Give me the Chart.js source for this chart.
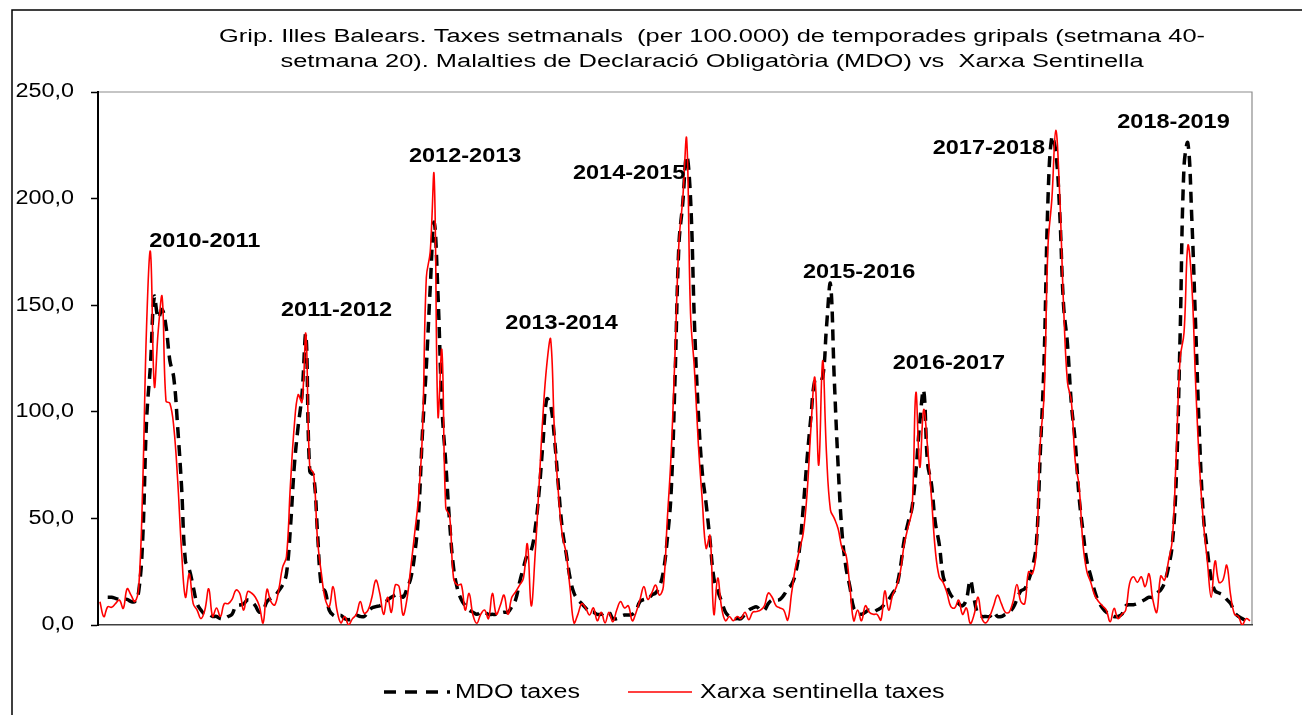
<!DOCTYPE html>
<html lang="ca">
<head>
<meta charset="utf-8">
<title>Grip. Illes Balears</title>
<script src="https://cdn.jsdelivr.net/npm/chart.js@4.4.1/dist/chart.umd.min.js"></script>
<style>
    html, body { margin: 0; padding: 0; background: #fff; }
    #wrap { width: 1302px; height: 715px; }
</style>
</head>
<body>
<div id="wrap"><canvas id="gripChart" width="1302" height="715"></canvas></div>
<script>
// setmanes de cada temporada (40 a 52, 1 a 20)
const weeks = [40, 41, 42, 43, 44, 45, 46, 47, 48, 49, 50, 51, 52,
    1, 2, 3, 4, 5, 6, 7, 8, 9, 10, 11, 12, 13, 14, 15, 16, 17, 18, 19, 20];
const seasons = ['2010-2011', '2011-2012', '2012-2013', '2013-2014', '2014-2015',
    '2015-2016', '2016-2017', '2017-2018', '2018-2019'];

// MDO taxes (per 100.000)
const mdo1011 = [null, null, 13, 13, 12.5, 12, 12, 12, 11, 11, 16, 40, 96, 122, 154, 144, 148, 140, 124, 116, 93, 65, 30, 26, 18, 10, 7, 5, 5, 4, 4, 3, 3];
const mdo1112 = [4, 5, 9, 9.4, 10, 11.7, 11, 9, 6, 7, 11, 12.5, 13.5, 16, 18.7, 24, 45, 74, 93, 108, 136, 72, 70, 43, 18, 15.6, 7, 4.7, 4, 4.5, 3, 2.5, 3];
const mdo1213 = [4.5, 4, 4, 6, 8, 8.6, 9, 10, 11.7, 13, 14, 14.8, 13, 17, 22, 33, 52, 90, 121, 158, 189, 155, 103, 76, 48, 27, 17, 12, 9, 7, 6, 5, 6];
const mdo1314 = [6, 5, 5, 5, 5.5, 6, 6, 8.6, 12, 20, 27, 33, 35, 45, 62, 85, 106, 103, 87, 65, 45, 33.5, 22, 15, 12, 10, 8, 6, 6, 5, 5, 6, 6];
const mdo1415 = [3, 3, 4, 4.7, 4.7, 5, 7, 11, 12, 12, 14, 15, 18, 25, 40, 62, 115, 178, 198, 220, 200, 142, 100, 72, 57, 40, 22, 16, 11, 6, 4, 3, 3];
const mdo1516 = [3, 5, 7, 8, 8.5, 7, 7, 10, 11.7, 11.7, 12, 14, 17, 19, 24, 35, 55, 78, 98, 115, 116, 116, 140, 160, 115, 74, 43, 27, 18, 8, 6, 5, 6];
const mdo1617 = [7, 6, 7, 8, 10, 12, 14.8, 18, 27, 40, 48, 55, 72, 95, 110, 76, 66, 48, 38, 23, 18, 14, 12, 10, 9, 12, 21, 12, 5, 4, 4, 4, 6];
const mdo1718 = [4, 4, 5, 6, 8, 12, 16, 17, 21, 27, 38, 80, 125, 200, 229, 222, 194, 150, 132, 104, 86, 60, 44, 30, 23, 16, 11, 8, 6, 5, 4, 4, 5];
const mdo1819 = [9, 9.5, 9.5, 10, 11, 12, 13, 13, 15, 16.4, 20, 27, 38, 68, 136, 215, 226, 191, 140, 88, 51, 35, 22, 16, 15, 14, 12, 10, 6, 4, 3, 2, 2];

// Xarxa sentinella taxes (per 100.000)
const xs1011 = [10.9, 3.9, 8.6, 8.3, 10, 11.7, 7.8, 17, 14, 11, 18, 65, 140, 175, 112, 138, 154, 105, 104, 93, 68, 35, 13, 24, 10, 7, 3, 7, 17, 4, 8, 4, 10];
const xs1112 = [10, 12, 16.4, 14.8, 7, 15.6, 15, 13, 9, 1, 16.7, 11, 9.4, 16.4, 27, 32, 65, 93, 108, 104.5, 136.5, 74, 71, 40, 24, 12, 8.6, 18, 7, 1, 4, 0, 3];
const xs1213 = [5, 11, 5.5, 7, 13, 21, 15, 5, 13, 6, 18.7, 18, 4.7, 12, 27, 43, 60, 90, 163, 175, 211, 98, 129, 55, 51, 22, 18.7, 19, 7, 14.8, 4.7, 0.8, 5];
const xs1314 = [7, 3, 14.8, 5, 9, 14, 5, 13, 15.6, 18.7, 22, 38, 9, 33, 65, 98, 122, 134, 89.7, 61.6, 42, 33.5, 17, 1, 5, 10, 8, 4.7, 8, 2, 6, 1, 6];
const xs1415 = [1.5, 7, 11, 8, 9, 2, 6, 12, 18, 12, 15, 18.7, 14, 18, 49, 80, 127, 179, 200, 228, 146, 120, 85, 59, 36, 42, 5, 22, 8, 2, 4, 2, 4];
const xs1516 = [3, 6, 2.5, 6, 6.3, 7, 9, 15, 13, 9, 8, 7, 2.3, 14.8, 27, 35, 43, 62, 93, 116, 75, 124, 80, 54, 50, 45, 36, 33, 18, 2, 7, 2, 9];
const xs1617 = [6, 5, 5, 2.3, 16, 7, 14, 18, 25, 38, 46, 54, 109, 74, 101, 83.5, 60, 35, 22.6, 20, 15, 8.6, 8, 11.7, 5, 8, 0.8, 5, 13, 3, 1, 4, 9];
const xs1718 = [14, 10, 6, 6, 11, 19, 11, 10, 25, 24, 35, 85, 108, 178, 200, 232, 202, 150, 114, 105, 77, 65, 38, 25, 20, 14, 11, 9, 7, 1.5, 7.8, 3, 5];
const xs1819 = [7, 19.5, 22.6, 20, 22.6, 18, 24, 11.7, 6, 23, 21, 30, 40, 80, 125, 137, 178, 160, 113, 74, 48, 30, 13, 30, 20, 21, 28, 14, 5, 4, 0, 3, 2];

const yTicks = [0, 50, 100, 150, 200, 250];

// on va cada etiqueta de temporada (índex de setmana, taxa)
const labelWeekIdx = [27, 60.9, 94, 118.8, 136.2, 195.4, 218.5, 228.8, 276.3];
const labelRate = [180, 147.5, 220, 141.4, 212, 165.7, 123, 223.8, 236];

const titleLines = [
    'Grip. Illes Balears. Taxes setmanals  (per 100.000) de temporades gripals (setmana 40-',
    'setmana 20). Malalties de Declaració Obligatòria (MDO) vs  Xarxa Sentinella'
];

const labels = seasons.flatMap(s => weeks.map(w => `${s} s${w}`));
const mdoData = [].concat(mdo1011, mdo1112, mdo1213, mdo1314, mdo1415, mdo1516, mdo1617, mdo1718, mdo1819);
const xsData = [].concat(xs1011, xs1112, xs1213, xs1314, xs1415, xs1516, xs1617, xs1718, xs1819);

const FONT = "'Liberation Sans', Arial, sans-serif";

function stretchText(ctx, text, x, y, font, sx, align) {
    ctx.save();
    ctx.font = font;
    ctx.fillStyle = '#000';
    ctx.textAlign = align;
    ctx.textBaseline = 'middle';
    ctx.translate(x, y);
    ctx.scale(sx, 1);
    ctx.fillText(text, 0, 0);
    ctx.restore();
}

const decor = {
    id: 'decor',
    beforeDraw(chart) {
        const ctx = chart.ctx;
        ctx.save();
        ctx.fillStyle = '#fff';
        ctx.fillRect(0, 0, chart.width, chart.height);
        // marc exterior
        ctx.strokeStyle = '#000';
        ctx.lineWidth = 1.5;
        ctx.beginPath();
        ctx.moveTo(12, chart.height);
        ctx.lineTo(12, 10);
        ctx.lineTo(chart.width, 10);
        ctx.stroke();
        // vores de l'àrea de dibuix
        const a = chart.chartArea;
        ctx.strokeStyle = '#8c8c8c';
        ctx.lineWidth = 1.2;
        ctx.beginPath();
        ctx.moveTo(a.left, a.top);
        ctx.lineTo(a.right, a.top);
        ctx.lineTo(a.right, a.bottom);
        ctx.stroke();
        ctx.restore();
    },
    afterDraw(chart) {
        const ctx = chart.ctx;
        const x = chart.scales.x, y = chart.scales.y;

        // títol
        ctx.save();
        ctx.font = `18px ${FONT}`;
        const tsx = 986 / ctx.measureText(titleLines[0]).width;
        ctx.restore();
        stretchText(ctx, titleLines[0], 712, 37, `18px ${FONT}`, tsx, 'center');
        stretchText(ctx, titleLines[1], 712, 62, `18px ${FONT}`, tsx, 'center');

        // etiquetes eix Y
        y.ticks.forEach(t => {
            stretchText(ctx, t.value.toFixed(1).replace('.', ','), 74, y.getPixelForValue(t.value),
                `19.5px ${FONT}`, 1.2, 'right');
        });

        // temporades
        seasons.forEach((s, i) => {
            stretchText(ctx, s, x.getPixelForValue(labelWeekIdx[i]), y.getPixelForValue(labelRate[i]),
                `bold 21px ${FONT}`, 1.12, 'center');
        });

        // llegenda
        const ly = 692;
        ctx.save();
        ctx.strokeStyle = '#000';
        ctx.lineWidth = 3.5;
        ctx.setLineDash([12, 9]);
        ctx.beginPath();
        ctx.moveTo(384, ly);
        ctx.lineTo(450, ly);
        ctx.stroke();
        ctx.setLineDash([]);
        ctx.strokeStyle = '#ff0000';
        ctx.lineWidth = 1.6;
        ctx.beginPath();
        ctx.moveTo(628, ly);
        ctx.lineTo(692, ly);
        ctx.stroke();
        ctx.restore();
        stretchText(ctx, 'MDO taxes', 455, ly, `20px ${FONT}`, 1.25, 'left');
        stretchText(ctx, 'Xarxa sentinella taxes', 700, ly, `20px ${FONT}`, 1.25, 'left');
    }
};

new Chart(document.getElementById('gripChart'), {
    type: 'line',
    data: {
        labels: labels,
        datasets: [
            {
                label: 'MDO taxes',
                data: mdoData,
                borderColor: '#000',
                borderWidth: 3.5,
                borderDash: [11, 7],
                pointRadius: 0,
                tension: 0.4,
                fill: false,
                order: 1
            },
            {
                label: 'Xarxa sentinella taxes',
                data: xsData,
                borderColor: '#ff0000',
                borderWidth: 1.6,
                pointRadius: 0,
                tension: 0.4,
                fill: false,
                order: 0
            }
        ]
    },
    options: {
        responsive: false,
        animation: false,
        layout: { padding: { left: 0, top: 92, right: 50, bottom: 90 } },
        plugins: {
            legend: { display: false },
            title: { display: false },
            tooltip: { enabled: false }
        },
        scales: {
            x: {
                offset: true,
                grid: { display: false },
                ticks: { display: false },
                border: { display: true, color: '#404040', width: 1.5 },
                afterFit: scale => { scale.height = 0; }
            },
            y: {
                min: 0,
                max: 250,
                afterBuildTicks: scale => { scale.ticks = yTicks.map(v => ({ value: v })); },
                ticks: { display: false },
                grid: { drawOnChartArea: false, drawTicks: true, tickLength: 7, tickColor: '#000', tickWidth: 1.5 },
                border: { display: true, color: '#000', width: 2 },
                afterFit: scale => { scale.width = 98; }
            }
        }
    },
    plugins: [decor]
});
</script>
</body>
</html>
